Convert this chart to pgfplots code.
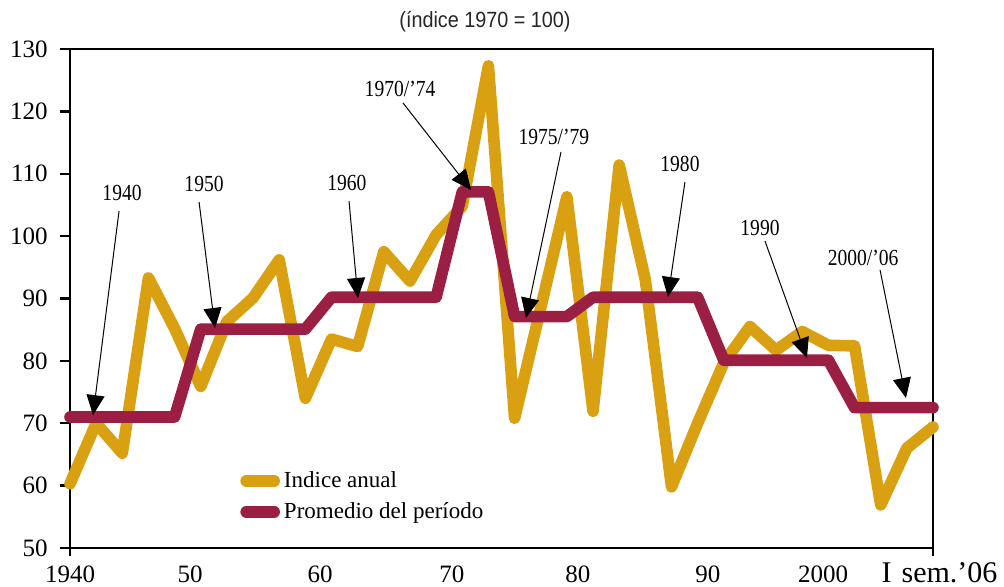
\documentclass[border=0pt]{standalone}
\usepackage{fontspec}
\setmainfont{Liberation Serif}
\newfontfamily\annfont[FakeStretch=0.85]{Liberation Serif}
\newfontfamily\titlefont[FakeStretch=0.9]{Liberation Sans}
\usepackage{pgfplots}
\usepackage{pgfplotstable}
\pgfplotsset{compat=1.18}
\usetikzlibrary{arrows.meta}
\definecolor{amarillo}{RGB}{217,160,18}
\definecolor{granate}{RGB}{155,31,66}

\pgfplotstableread{
year indice promedio
1940 60.3 71.0
1942 70.0 71.0
1944 65.2 71.0
1946 93.3 71.0
1948 85.2 71.0
1950 75.9 85.1
1952 86.3 85.1
1954 90.1 85.1
1956 96.2 85.1
1958 74.0 85.1
1960 83.5 90.2
1962 82.3 90.2
1964 97.5 90.2
1966 92.8 90.2
1968 100.2 90.2
1970 104.8 107.1
1972 127.3 107.1
1974 70.8 87.1
1976 88.5 87.1
1978 106.3 87.1
1980 71.9 90.2
1982 111.4 90.2
1984 93.0 90.2
1986 59.8 90.2
1988 70.0 90.2
1990 79.7 80.1
1992 85.5 80.1
1994 81.7 80.1
1996 84.7 80.1
1998 82.5 80.1
2000 82.4 72.5
2002 56.9 72.5
2004 66.0 72.5
2006 69.4 72.5
}\datatable

\begin{document}
\begin{tikzpicture}
\path[use as bounding box] (-35pt,-19.5pt) rectangle (467pt,274pt);
\begin{axis}[
  at={(0,0)}, anchor=south west,
  scale only axis, width=431.5pt, height=249.5pt,
  xmin=1940, xmax=2006, ymin=50, ymax=130,
  clip=false,
  axis line style={line width=1.3pt},
  /pgf/number format/assume math mode=true,
  ytick={50,60,...,130},
  ytick pos=left, xtick pos=bottom,
  tick align=outside,
  major tick length=5pt,
  minor tick length=4pt,
  y tick style={line width=1.2pt, black},
  yticklabel style={font=\fontsize{12.5}{12.5}\selectfont, anchor=east, inner sep=0pt, xshift=-6pt},
  xtick={1940,1949.18,1959.12,1969.21,1978.85,1988.79,1997.59},
  xticklabels={1940,50,60,70,80,90,2000},
  major x tick style={draw=none},
  minor xtick={1940,2006},
  minor x tick style={draw=black, line width=1.2pt},
  xticklabel style={font=\fontsize{12.5}{12.5}\selectfont, anchor=base, inner sep=0pt, yshift=-12pt},
  legend style={at={(axis cs:1953.0,63.0)}, anchor=north west, draw=none, fill=none,
    font=\fontsize{11.5}{13}\selectfont, inner sep=0pt, row sep=2pt},
  legend image code/.code={\draw[#1, line width=5.8pt, line cap=round] (0pt,0pt) -- (14pt,0pt);},
  legend cell align=left,
]
\addplot[amarillo, line width=5.8pt, line join=round, line cap=round] table[x=year, y=indice] {\datatable};
\addlegendentry{Indice anual}
\addplot[granate, line width=5.8pt, line join=round, line cap=round] table[x=year, y=promedio] {\datatable};
\addlegendentry{Promedio del período}

\node[font=\titlefont\fontsize{11}{12}\selectfont, text=black!85] at (axis cs:1971.74,134.3) {(índice 1970 = 100)};
\node[font=\fontsize{15}{15}\selectfont, anchor=base] at (axis cs:2006.5,50) [yshift=-17pt] {I\hspace{5pt}sem.’06};

\tikzset{ann/.style={font=\annfont\fontsize{11.5}{12}\selectfont, inner sep=0pt},
         arr/.style={line width=0.5pt, -{Triangle[length=10pt,width=9pt]}}}
\node[ann] at (axis cs:1943.98,106.9) {1940};
\draw[arr] (axis cs:1943.75,104.0) -- (axis cs:1941.76,71.3);
\node[ann] at (axis cs:1950.25,108.36) {1950};
\draw[arr] (axis cs:1949.87,105.47) -- (axis cs:1951.09,85.27);
\node[ann] at (axis cs:1961.18,108.5) {1960};
\draw[arr] (axis cs:1961.34,105.6) -- (axis cs:1962.02,90.08);
\node[ann] at (axis cs:1965.24,123.59) {1970/’74};
\draw[arr] (axis cs:1965.47,121.34) -- (axis cs:1970.67,107.4);
\node[ann] at (axis cs:1977.01,115.9) {1975/’79};
\draw[arr] (axis cs:1977.55,113.49) -- (axis cs:1974.87,86.87);
\node[ann] at (axis cs:1986.65,111.56) {1980};
\draw[arr] (axis cs:1987.03,108.68) -- (axis cs:1985.73,90.24);
\node[ann] at (axis cs:1992.77,101.3) {1990};
\draw[arr] (axis cs:1993.15,99.22) -- (axis cs:1996.36,80.46);
\node[ann] at (axis cs:2000.65,96.49) {2000/’06};
\draw[arr] (axis cs:2001.95,94.57) -- (axis cs:2003.93,74.05);
\end{axis}
\end{tikzpicture}
\end{document}
